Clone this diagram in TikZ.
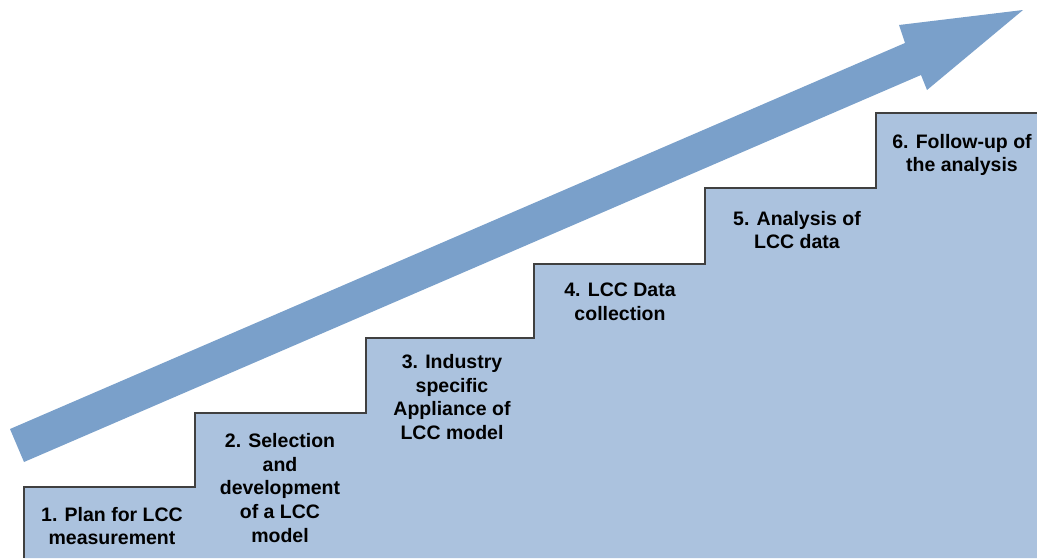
\documentclass[tikz,border=0pt]{standalone}
\usepackage{fontspec}
\setmainfont{Liberation Sans}
\definecolor{stepfill}{HTML}{ABC2DE}
\definecolor{arrowfill}{HTML}{7AA0CA}
\definecolor{edge}{HTML}{404040}
\begin{document}
\begin{tikzpicture}[x=1pt,y=-1pt,
  lbl/.style={align=center,font=\fontsize{19.5}{23.7}\selectfont\bfseries,text=black,inner sep=0pt}]
\useasboundingbox (0,0) rectangle (1037,558);
% staircase
\fill[stepfill] (24,558) -- (24,487) -- (195,487) -- (195,413) -- (366,413) -- (366,338)
  -- (534,338) -- (534,264) -- (705,264) -- (705,188) -- (876,188) -- (876,113)
  -- (1037,113) -- (1037,558) -- cycle;
\draw[edge,line width=1.3pt] (24,558) -- (24,487) -- (195,487) -- (195,413) -- (366,413) -- (366,338)
  -- (534,338) -- (534,264) -- (705,264) -- (705,188) -- (876,188) -- (876,113)
  -- (1037,113);
% arrow
\fill[arrowfill] (10,429) -- (905,43) -- (899,25) -- (1023,10) -- (927,90) -- (921,75) -- (24,462) -- cycle;
% labels
\node[lbl] (s1) at (112,526) {1. Plan for LCC\\measurement};
\node[lbl] (s2) at (280,488) {2. Selection\\and\\development\\of a LCC\\model};
\node[lbl] (s3) at (452,397) {3. Industry\\specific\\Appliance of\\LCC model};
\node[lbl] (s4) at (620,302) {4. LCC Data\\collection};
\node[lbl] (s5) at (797,230) {5. Analysis of\\LCC data};
\node[lbl] (s6) at (962,155) {6. Follow-up of\\the analysis};
\end{tikzpicture}
\end{document}
